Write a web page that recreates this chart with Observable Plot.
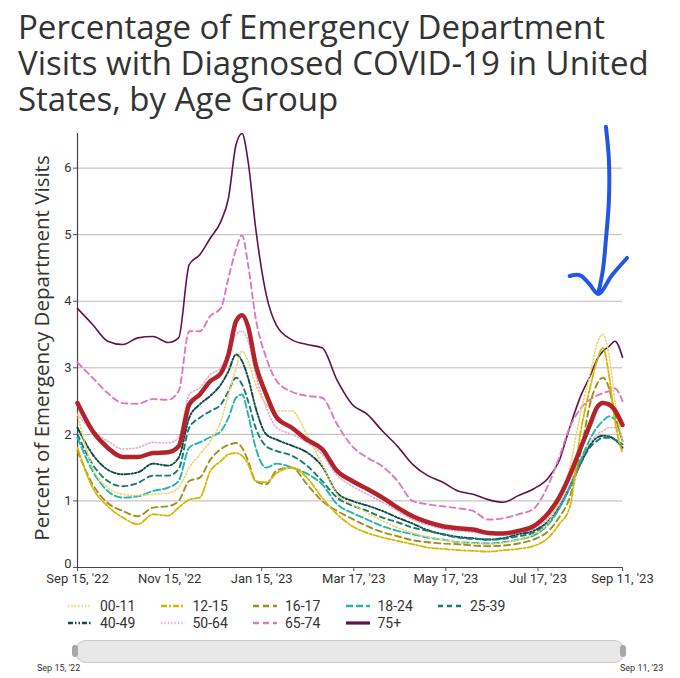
<!DOCTYPE html>
<html><head><meta charset="utf-8">
<script src="https://cdn.jsdelivr.net/npm/d3@7"></script>
<script src="https://cdn.jsdelivr.net/npm/@observablehq/plot@0.6"></script>
<style>
body{margin:0;background:#fff;}
#wrap{position:relative;width:680px;height:678px;overflow:hidden;font-family:Roboto,sans-serif;color:#333;}
#title{position:absolute;left:18px;top:9px;font-family:"Open Sans",sans-serif;font-size:33px;line-height:36px;color:#333;white-space:nowrap;}
#ylabel{position:absolute;left:41px;top:348px;transform:translate(-50%,-50%) rotate(-90deg);font-family:"Open Sans",sans-serif;font-size:20.5px;white-space:nowrap;color:#333;}
#chart{position:absolute;left:0;top:110px;}
.item{position:absolute;display:flex;align-items:center;font-size:14px;color:#333;height:18px;white-space:nowrap;}
.item svg{margin-right:7px;}
#slider{position:absolute;left:75px;top:640px;width:548px;height:21px;border-radius:11px;background:#e8e8e8;border:1px solid #c9c9c9;}
.handle{position:absolute;top:645px;width:6px;height:12px;border-radius:3px;background:#a8a8a8;}
.slab{position:absolute;top:663px;font-size:9px;color:#333;white-space:nowrap;}
</style></head>
<body>
<div id="wrap">
  <div id="title">Percentage of Emergency Department<br>Visits with Diagnosed COVID-19 in United<br>States, by Age Group</div>
  <div id="ylabel">Percent of Emergency Department Visits</div>
  <div id="chart"></div>
  <div id="legend"></div>
  <div id="slider"></div>
  <div class="handle" style="left:72px"></div>
  <div class="handle" style="left:620px"></div>
  <div class="slab" style="left:37px">Sep 15, '22</div>
  <div class="slab" style="left:620px">Sep 11, '23</div>
</div>
<script>
// ---------- data ----------
const dates = ["2022-09-15","2022-09-25","2022-10-05","2022-10-15","2022-10-25","2022-11-04","2022-11-14","2022-11-21","2022-11-28","2022-12-05",
"2022-12-12","2022-12-19","2022-12-24","2022-12-29","2023-01-02","2023-01-06","2023-01-11","2023-01-18","2023-01-25","2023-02-04",
"2023-02-14","2023-02-24","2023-03-06","2023-03-16","2023-03-26","2023-04-05","2023-04-15","2023-04-25","2023-05-05","2023-05-15",
"2023-05-25","2023-06-04","2023-06-14","2023-06-24","2023-07-04","2023-07-14","2023-07-24","2023-07-31","2023-08-07","2023-08-14",
"2023-08-21","2023-08-25","2023-08-29","2023-09-02","2023-09-06","2023-09-11"];

const v00_11 = [2.3,1.5,1.2,1.1,1.08,1.1,1.12,1.2,1.5,1.7, 1.9,2.2,2.6,3.0,3.25,3.1,2.75,2.45,2.35,2.35, 2.0,1.55,1.1,0.95,0.82,0.7,0.6,0.52,0.46,0.42, 0.38,0.36,0.35,0.37,0.42,0.5,0.68,1.0,1.5,2.3, 2.95,3.35,3.5,3.2,2.5,1.9];
const v12_15 = [1.8,1.2,0.92,0.75,0.65,0.8,0.78,0.9,1.02,1.05, 1.45,1.6,1.7,1.72,1.68,1.55,1.3,1.28,1.42,1.5, 1.35,1.05,0.8,0.62,0.52,0.45,0.4,0.35,0.3,0.28, 0.26,0.25,0.24,0.26,0.28,0.32,0.45,0.65,0.9,2.0, 2.75,3.1,3.3,2.9,2.2,1.72];
const v16_17 = [1.75,1.25,0.97,0.85,0.77,0.9,0.92,1.0,1.3,1.35, 1.62,1.78,1.84,1.87,1.8,1.6,1.3,1.25,1.46,1.5, 1.25,1.0,0.85,0.73,0.62,0.53,0.47,0.41,0.38,0.36, 0.35,0.33,0.32,0.33,0.36,0.42,0.55,0.75,1.05,1.7, 2.5,2.75,2.85,2.7,2.3,1.9];
const v18_24 = [1.95,1.45,1.15,1.05,1.07,1.15,1.2,1.3,1.8,1.88, 1.96,2.05,2.25,2.55,2.6,2.3,1.8,1.5,1.56,1.5, 1.41,1.25,0.95,0.82,0.72,0.62,0.55,0.5,0.45,0.42, 0.38,0.37,0.36,0.38,0.42,0.48,0.65,0.88,1.2,1.6, 1.95,2.1,2.2,2.27,2.22,1.9];
const v25_39 = [2.0,1.55,1.3,1.22,1.27,1.38,1.38,1.48,2.1,2.25, 2.35,2.45,2.65,2.85,2.75,2.5,2.1,1.82,1.75,1.68, 1.53,1.3,1.05,0.93,0.85,0.75,0.68,0.6,0.55,0.5, 0.45,0.43,0.42,0.43,0.47,0.52,0.68,0.9,1.2,1.55, 1.82,1.9,1.95,1.95,1.92,1.85];
const v40_49 = [2.1,1.7,1.47,1.4,1.43,1.56,1.53,1.65,2.25,2.45, 2.58,2.75,2.95,3.2,3.1,2.85,2.4,2.0,1.92,1.83, 1.73,1.52,1.12,1.0,0.93,0.85,0.75,0.66,0.56,0.5, 0.46,0.44,0.42,0.44,0.5,0.55,0.7,0.9,1.2,1.55, 1.85,1.95,1.98,1.97,1.92,1.8];
const v50_64 = [2.3,2.05,1.9,1.78,1.8,1.88,1.87,1.95,2.6,2.7, 2.9,3.0,3.2,3.5,3.55,3.4,2.9,2.4,2.1,2.0, 1.88,1.7,1.38,1.22,1.1,0.98,0.85,0.72,0.64,0.58, 0.55,0.53,0.5,0.5,0.53,0.58,0.75,0.95,1.25,1.6, 1.88,2.0,2.05,2.1,2.1,1.95];
const v65_74 = [3.08,2.85,2.62,2.47,2.46,2.53,2.52,2.65,3.55,3.55, 3.78,3.9,4.35,4.78,4.99,4.55,3.75,3.15,2.8,2.64, 2.58,2.55,2.15,1.82,1.65,1.52,1.3,1.0,0.95,0.92, 0.89,0.85,0.72,0.74,0.8,0.88,1.25,1.65,2.1,2.38, 2.53,2.58,2.62,2.65,2.69,2.5];
const v75plus = [3.89,3.65,3.4,3.35,3.45,3.47,3.38,3.45,4.55,4.7, 4.95,5.2,5.55,6.35,6.52,6.1,5.1,4.1,3.63,3.42, 3.35,3.3,2.81,2.45,2.3,2.05,1.82,1.55,1.38,1.28, 1.15,1.1,1.02,0.98,1.08,1.18,1.35,1.6,2.1,2.56, 2.9,3.12,3.25,3.32,3.4,3.16];
const vAllAges = [2.47,2.05,1.8,1.66,1.66,1.72,1.73,1.82,2.45,2.6, 2.8,2.92,3.2,3.7,3.79,3.62,3.05,2.6,2.25,2.1, 1.92,1.78,1.45,1.3,1.18,1.05,0.9,0.77,0.68,0.62, 0.59,0.57,0.52,0.51,0.55,0.62,0.82,1.05,1.38,1.78, 2.18,2.4,2.47,2.45,2.36,2.14];

const seriesNames = ["00-11","12-15","16-17","18-24","25-39","40-49","50-64","65-74","75+"];
const seriesValues = [v00_11, v12_15, v16_17, v18_24, v25_39, v40_49, v50_64, v65_74, v75plus];

const yTicks = [0,1,2,3,4,5,6];
const xTickDates = ["2022-09-15","2022-11-15","2023-01-15","2023-03-17","2023-05-17","2023-07-17","2023-09-11"];
const xTickLabels = ["Sep 15, '22","Nov 15, '22","Jan 15, '23","Mar 17, '23","May 17, '23","Jul 17, '23","Sep 11, '23"];

// hand-drawn arrow annotation (date, value)
const arrowShaftDates = ["2023-08-31","2023-09-02","2023-09-02","2023-08-31","2023-08-29","2023-08-26"];
const arrowShaftValues = [6.62,6.12,5.52,4.92,4.47,4.12];
const arrowHeadDates = ["2023-08-07","2023-08-14","2023-08-20","2023-08-26","2023-09-04","2023-09-14"];
const arrowHeadValues = [4.38,4.39,4.26,4.11,4.39,4.65];

// ---------- styles ----------
const styles = {
  "00-11": {stroke:"#efd36c", width:1.6, dash:"1.2,2.2"},
  "12-15": {stroke:"#d6b700", width:1.8, dash:"6,2,2,2"},
  "16-17": {stroke:"#a38c22", width:1.9, dash:"6,4"},
  "18-24": {stroke:"#26b5ad", width:1.9, dash:"7,3"},
  "25-39": {stroke:"#1a7b72", width:1.9, dash:"5,4"},
  "40-49": {stroke:"#0c4a45", width:1.9, dash:"5,2,1.5,2,1.5,2"},
  "50-64": {stroke:"#eaa9d7", width:1.6, dash:"1.2,2.2"},
  "65-74": {stroke:"#de79bf", width:1.9, dash:"6,4"},
  "75+":   {stroke:"#5d1446", width:1.6, dash:null},
  "All":   {stroke:"#b3242a", width:4.5, dash:null}
};

// ---------- build ----------
const parse = s => new Date(s + "T00:00:00Z");
const rows = [];
seriesNames.forEach((name, i) => seriesValues[i].forEach((v, j) => rows.push({date: parse(dates[j]), value: v, series: name})));
const allRows = vAllAges.map((v, j) => ({date: parse(dates[j]), value: v, series: "All"}));
const arrowRows = [
  ...arrowShaftDates.map((d, i) => ({date: parse(d), value: arrowShaftValues[i], part: "shaft"})),
  ...arrowHeadDates.map((d, i) => ({date: parse(d), value: arrowHeadValues[i], part: "head"}))
];
const tickDates = xTickDates.map(parse);
const yMax = d3.max(v75plus);

const lineMark = (data, name) => {
  const s = styles[name];
  const opts = {x: "date", y: "value", stroke: s.stroke, strokeWidth: s.width, curve: "monotone-x", strokeLinejoin: "round"};
  if (s.dash) opts.strokeDasharray = s.dash;
  return Plot.line(data, opts);
};

const drawOrder = ["75+","65-74","50-64","40-49","25-39","18-24","16-17","12-15","00-11"];

const chart = Plot.plot({
  width: 680,
  height: 480,
  marginTop: 23,
  marginBottom: 23,
  marginLeft: 77,
  marginRight: 58,
  style: {fontFamily: "Roboto, sans-serif", fontSize: "13px", color: "#333", background: "transparent", overflow: "visible"},
  x: {type: "utc", domain: [parse(dates[0]), parse(dates[dates.length - 1])]},
  y: {domain: [0, yMax]},
  marks: [
    Plot.gridY(yTicks.filter(d => d > 0), {stroke: "#b9b9b9", strokeOpacity: 1, strokeWidth: 1}),
    Plot.axisY(yTicks, {tickSize: 4, tickPadding: 2, fontSize: 13, label: null, stroke: "#555", tickFormat: d => d === 0 ? "" : String(d)}),
    Plot.axisY([0], {tickSize: 0, tickPadding: 6, fontSize: 13, label: null, tickFormat: d => String(d), dy: -4}),
    Plot.axisX(tickDates, {tickSize: 4, tickPadding: 2, fontSize: 13, label: null, stroke: "#555",
      tickFormat: d => xTickLabels[tickDates.findIndex(t => +t === +d)]}),
    Plot.ruleX([parse(dates[0])], {y1: 0, y2: yMax, stroke: "#444", strokeWidth: 1.2}),
    Plot.ruleY([0], {stroke: "#444", strokeWidth: 1.2}),
    ...drawOrder.map(name => lineMark(rows.filter(r => r.series === name), name)),
    lineMark(allRows, "All"),
    Plot.line(arrowRows, {x: "date", y: "value", z: "part", stroke: "#2456e6", strokeWidth: 4, curve: "catmull-rom", strokeLinecap: "round", strokeLinejoin: "round"})
  ]
});
document.getElementById("chart").appendChild(chart);

// legend
const legend = document.getElementById("legend");
seriesNames.forEach((name, i) => {
  const s = styles[name];
  const col = i % 5, row = Math.floor(i / 5);
  const div = document.createElement("div");
  div.className = "item";
  div.style.left = (67 + col * 92.5) + "px";
  div.style.top = (597 + row * 17) + "px";
  const w = name === "75+" ? 3.2 : Math.max(s.width, 2.4);
  div.innerHTML = `<svg width="26" height="10"><line x1="1" x2="25" y1="5" y2="5" stroke="${s.stroke}" stroke-width="${w}" ${s.dash ? `stroke-dasharray="${s.dash}"` : ""}/></svg>`;
  const span = document.createElement("span");
  span.textContent = name;
  div.appendChild(span);
  legend.appendChild(div);
});
</script>
</body></html>
